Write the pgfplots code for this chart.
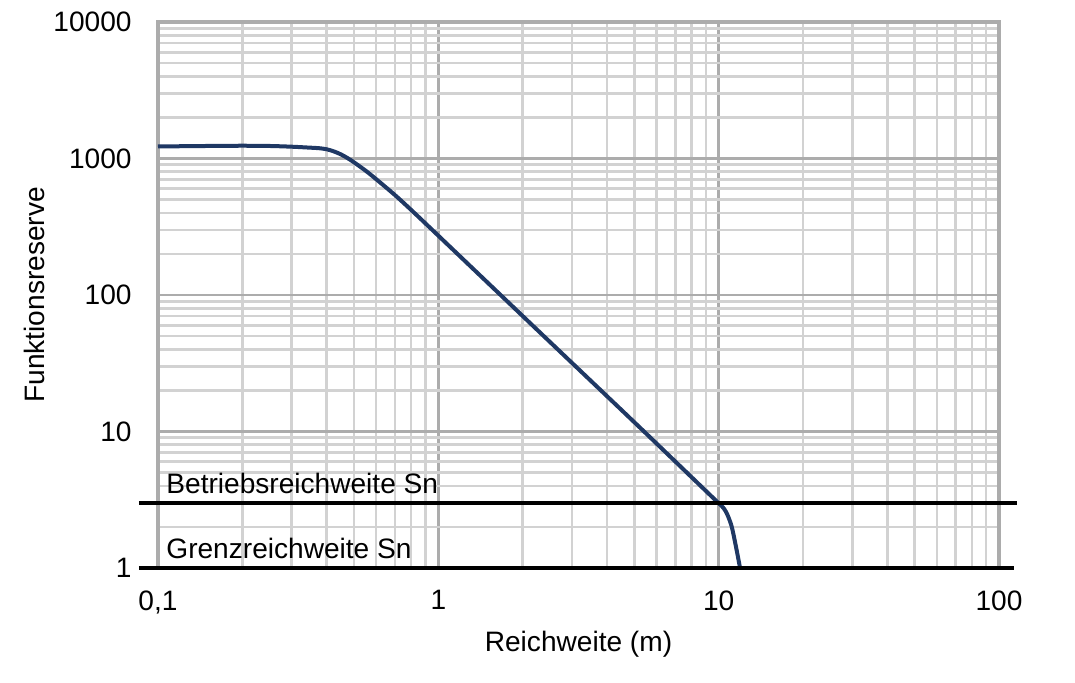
\documentclass[border=0pt]{standalone}
\usepackage{pgfplots}
\pgfplotsset{compat=1.18}
\usepackage{fontspec}
\setmainfont{Liberation Sans}
\definecolor{curve}{RGB}{31,56,100}
\definecolor{gmin}{RGB}{210,210,210}
\definecolor{gmaj}{RGB}{172,172,172}
\newcommand{\lf}{\fontsize{14.1}{17}\selectfont}
\begin{document}
\begin{tikzpicture}
\path[use as bounding box] (-79bp,-57.5bp) rectangle (458.5bp,284bp);
\begin{axis}[
  at={(0,0)}, anchor=south west,
  scale only axis, width=420.5bp, height=273bp,
  xmode=log, ymode=log,
  xmin=0.1, xmax=100, ymin=1, ymax=10000,
  xtick={0.1,1,10,100}, xticklabels={{0,1},1,10,100},
  ytick={1,10,100,1000,10000}, yticklabels={1,10,100,1000,10000},
  minor xtick={0.2,0.3,0.4,0.5,0.6,0.7,0.8,0.9,2,3,4,5,6,7,8,9,20,30,40,50,60,70,80,90},
  minor ytick={2,3,4,5,6,7,8,9,20,30,40,50,60,70,80,90,200,300,400,500,600,700,800,900,2000,3000,4000,5000,6000,7000,8000,9000},
  grid=both,
  major grid style={gmaj, line width=1.3bp},
  minor grid style={gmin, line width=1.3bp},
  major tick length=0pt, minor tick length=0pt,
  axis line style={gmaj, line width=1.6bp},
  /pgf/number format/assume math mode=true,
  tick label style={font=\lf},
  label style={font=\lf},
  yticklabel style={inner sep=0pt, xshift=-13bp},
  xticklabel style={inner sep=0pt, yshift=-11bp},
  xlabel={Reichweite (m)},
  ylabel={Funktionsreserve},
  xlabel style={at={(axis description cs:0.5,-0.1538)}, anchor=base, inner sep=0pt},
  ylabel style={at={(axis description cs:-0.1344,0.5)}, anchor=base, inner sep=0pt},
  clip=false,
]
\addplot[curve, line width=2bp, smooth, tension=0.5] coordinates {
  (0.1,1225) (0.15,1235) (0.2,1240) (0.25,1235) (0.3,1220) (0.35,1200)
  (0.375,1190) (0.4,1168) (0.425,1125) (0.45,1070) (0.475,1005) (0.5,938)
  (0.55,815) (0.6,706) (0.7,540) (0.8,420) (1,272) (2,70.1) (5,11.7)
  (9.5,3.3) (10.1,2.93) (10.45,2.72) (10.75,2.45) (11.13,2.01) (11.53,1.43) (11.92,1)
};
\addplot[black, line width=2.2bp] coordinates {(0.0855,3) (116,3)};
\addplot[black, line width=2.2bp] coordinates {(0.0855,1) (113,1)};
\node[anchor=base west, inner sep=0pt, font=\lf] at (axis cs:0.1068,3.5) {Betriebsreichweite Sn};
\node[anchor=base west, inner sep=0pt, font=\lf] at (axis cs:0.1068,1.18) {Grenzreichweite Sn};
\end{axis}
\end{tikzpicture}
\end{document}
